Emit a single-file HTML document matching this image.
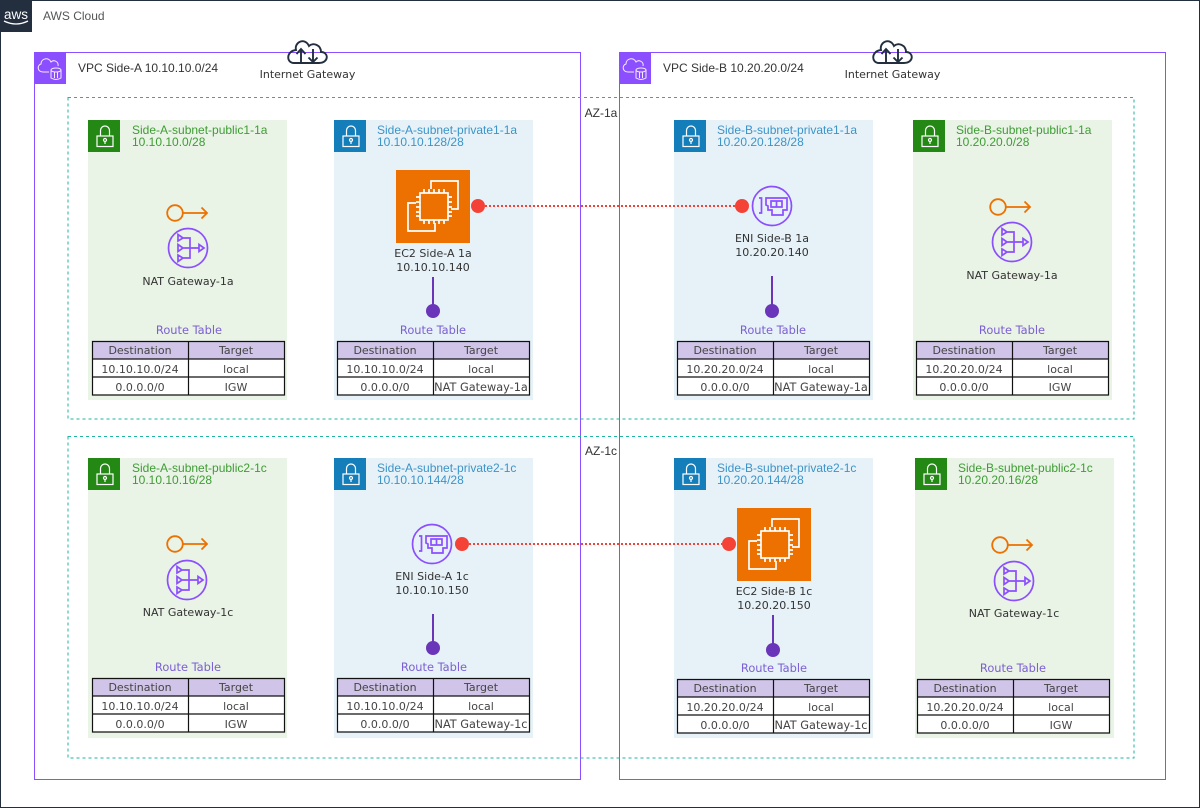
<!DOCTYPE html>
<html><head><meta charset="utf-8"><style>
html,body{margin:0;padding:0;background:#fff}
svg{display:block}
text{font-family:"DejaVu Sans",sans-serif;font-size:11px;fill:#333;text-anchor:middle}
.a{font-family:"Liberation Sans",sans-serif;font-size:12px}
.l{text-anchor:start}
.g{fill:#3f9c35}.b{fill:#3d93c8}
.p{fill:#7c5fd3;font-size:11.400px}
.h{fill:#444}
.n{font-size:11.300px}
</style></head><body>
<svg width="1200" height="808" viewBox="0 0 1200 808" xmlns="http://www.w3.org/2000/svg">
<defs>
<g id="lock" fill="none" stroke="#fff" stroke-width="1.200"><rect x="9" y="16" width="16" height="10.500"/><path d="M12.500 16V10.500a4.500 4.500 0 0 1 9 0V16"/><circle cx="17" cy="20" r="1.500"/><path d="M17 21.500v2.500"/></g>
<g id="igw" fill="none" stroke="#232f3e" stroke-width="1.900"><path d="M-13 12H12C22 12 22 1 14 1C14 -6 6 -9 2 -5C-2 -14 -13 -9 -11 -1C-21 0 -21 12 -13 12Z"/><path d="M-6 12V-2M-10.500 3L-6 -2L-1.500 3M6 -2V11M1.500 6.500L6 11L10.500 6.500"/></g>
<g id="eip" fill="none" stroke="#ed7100" stroke-width="1.800"><circle cx="0" cy="0" r="7.800"/><path d="M7.800 0H32M26.500 -5.500L32 0L26.500 5.500"/></g>
<g id="nat" fill="none" stroke="#8c4fff" stroke-width="1.700"><circle cx="0" cy="0" r="19.500"/><path d="M-10 -13.500L-5 -10L-10 -7ZM-10 -3.500L-5 0L-10 3.500ZM-10 7L-5 10L-10 13.500ZM-5 -10H2V10H-5M-5 0H11M11 -3.500L16 0L11 3.500Z"/></g>
<g id="eni" fill="none" stroke="#8c4fff" stroke-width="1.700"><circle cx="0" cy="0" r="19.500"/><path d="M-13 -8H-10.500V7H-13M-6 -8H15V4H11V9H0V4H-4L-4 0L-6 -1ZM-1 -5H10V1H-1ZM4.500 -5V1"/></g>
<g id="ec2"><rect width="74" height="73" fill="#ed7100"/><g fill="none" stroke="#fff" stroke-width="1.700"><path d="M35 19V11H62V39H55M20 33H12V61H39V53"/><rect x="24" y="23" width="28" height="27"/><path d="M28 23v-4M33 23v-4M38 23v-4M43 23v-4M48 23v-4M28 50v4M33 50v4M38 50v4M43 50v4M48 50v4M24 27h-4M24 32h-4M24 37h-4M24 42h-4M24 46h-4M52 27h4M52 32h4M52 37h4M52 42h4M52 46h4"/></g></g>
<g id="vpc"><rect width="32" height="32" fill="#8c4fff"/><g fill="none" stroke="#fff" stroke-width="1" opacity=".9"><path d="M15 20H9C3 20 3 13 7 12C7 6 15 5 17 10C20 7 25 10 24 14"/><ellipse cx="22" cy="18" rx="5" ry="2"/><path d="M17 18V26Q22 29 27 26V18M20.500 20V26M23.500 20V26"/></g></g>
<g id="pub"><rect width="199" height="280" fill="#e9f3e6"/><rect width="32" height="32" fill="#248814"/><use href="#lock"/></g>
<g id="pri"><rect width="199" height="280" fill="#e6f2f8"/><rect width="32" height="32" fill="#147eba"/><use href="#lock"/></g>
<g id="tbl"><rect x=".5" y=".5" width="192" height="53.500" fill="#fff"/><rect x=".5" y=".5" width="192" height="17.500" fill="#d0c4e8"/><path d="M.5 .5H192.500V54H.5ZM.5 18H192.500M.5 36H192.500M96.500 .5V54" fill="none" stroke="#111" stroke-width="1.200"/></g>
<g id="red"><circle r="7" fill="#f44336"/></g>
<g id="pd"><circle r="7" fill="#6a35b8"/></g>
</defs>

<rect x=".5" y=".5" width="1199" height="807" fill="#fff" stroke="#232f3e"/>
<rect width="32" height="32" fill="#232f3e"/>
<text x="16" y="19" style="font:13.500px 'Liberation Sans',sans-serif;fill:#fff;text-anchor:middle">aws</text>
<path d="M4 21Q16 27 28 21" fill="none" stroke="#fff" stroke-width="1.300"/>
<text class="a l" x="43" y="20" style="fill:#555">AWS Cloud</text>

<!-- Subnets -->
<use href="#pub" x="88" y="120"/><use href="#pri" x="334" y="120"/><use href="#pri" x="674" y="120"/><use href="#pub" x="913" y="120"/>
<use href="#pub" x="88" y="458"/><use href="#pri" x="334" y="458"/><use href="#pri" x="674" y="458"/><use href="#pub" x="915" y="458"/>

<!-- VPCs -->
<rect x="34.500" y="52.500" width="546" height="727" fill="none" stroke="#8c4fff"/>
<rect x="619.500" y="52.500" width="546" height="727" fill="none" stroke="#8c4fff"/>
<use href="#vpc" x="34" y="52"/><use href="#vpc" x="619" y="52"/>
<text class="a l" x="78" y="72">VPC Side-A 10.10.10.0/24</text>
<text class="a l" x="663" y="72">VPC Side-B 10.20.20.0/24</text>

<!-- AZ -->
<rect x="68" y="97.500" width="1066" height="321.500" fill="none" stroke="#1fb5a0" stroke-dasharray="3 3"/>
<rect x="68" y="436.500" width="1066" height="321.500" fill="none" stroke="#1fb5a0" stroke-dasharray="3 3"/>
<text class="a" x="601" y="117">AZ-1a</text>
<text class="a" x="601" y="455">AZ-1c</text>

<!-- IGW -->
<use href="#igw" x="307" y="51"/><use href="#igw" x="892" y="51"/>
<text x="307.500" y="78">Internet Gateway</text>
<text x="892.500" y="78">Internet Gateway</text>

<!-- Subnet titles -->
<text class="a l g" x="132" y="134">Side-A-subnet-public1-1a</text><text class="a l g" x="132" y="146">10.10.10.0/28</text>
<text class="a l b" x="377" y="134">Side-A-subnet-private1-1a</text><text class="a l b" x="377" y="146">10.10.10.128/28</text>
<text class="a l b" x="717" y="134">Side-B-subnet-private1-1a</text><text class="a l b" x="717" y="146">10.20.20.128/28</text>
<text class="a l g" x="956" y="134">Side-B-subnet-public1-1a</text><text class="a l g" x="956" y="146">10.20.20.0/28</text>
<text class="a l g" x="132" y="472">Side-A-subnet-public2-1c</text><text class="a l g" x="132" y="484">10.10.10.16/28</text>
<text class="a l b" x="377" y="472">Side-A-subnet-private2-1c</text><text class="a l b" x="377" y="484">10.10.10.144/28</text>
<text class="a l b" x="717" y="472">Side-B-subnet-private2-1c</text><text class="a l b" x="717" y="484">10.20.20.144/28</text>
<text class="a l g" x="958" y="472">Side-B-subnet-public2-1c</text><text class="a l g" x="958" y="484">10.20.20.16/28</text>

<!-- NAT -->
<use href="#eip" x="175" y="213"/><use href="#nat" x="188" y="248"/><text x="188" y="285">NAT Gateway-1a</text>
<use href="#eip" x="998" y="207"/><use href="#nat" x="1012" y="242"/><text x="1012" y="279">NAT Gateway-1a</text>
<use href="#eip" x="175" y="544"/><use href="#nat" x="187" y="580"/><text x="188" y="616">NAT Gateway-1c</text>
<use href="#eip" x="1000" y="545"/><use href="#nat" x="1014" y="581"/><text x="1014" y="617">NAT Gateway-1c</text>

<!-- EC2 / ENI -->
<use href="#ec2" x="396" y="170"/><text x="433" y="257">EC2 Side-A 1a</text><text x="433" y="271">10.10.10.140</text>
<use href="#eni" x="772" y="206"/><text x="772" y="242">ENI Side-B 1a</text><text x="772" y="256">10.20.20.140</text>
<use href="#eni" x="432" y="544"/><text x="432" y="580">ENI Side-A 1c</text><text x="432" y="594">10.10.10.150</text>
<use href="#ec2" x="737" y="508"/><text x="774" y="595">EC2 Side-B 1c</text><text x="774" y="609">10.20.20.150</text>

<!-- Connectors -->
<path d="M485 206H735M469 544H722" stroke="#f44336" stroke-width="2" stroke-dasharray="2 2" fill="none"/>
<use href="#red" x="478" y="206"/><use href="#red" x="742" y="206"/><use href="#red" x="462" y="544"/><use href="#red" x="729" y="544"/>
<path d="M433 277V311M772 276V311M433 614V648M773 615V650" stroke="#6a35b8" stroke-width="2" fill="none"/>
<use href="#pd" x="433" y="311"/><use href="#pd" x="772" y="311"/><use href="#pd" x="433" y="648"/><use href="#pd" x="773" y="650"/>

<!-- Route tables -->
<text class="p" x="189" y="334">Route Table</text>
<text class="p" x="433" y="334">Route Table</text>
<text class="p" x="773" y="334">Route Table</text>
<text class="p" x="1012" y="334">Route Table</text>
<text class="p" x="188" y="671">Route Table</text>
<text class="p" x="434" y="671">Route Table</text>
<text class="p" x="774" y="672">Route Table</text>
<text class="p" x="1013" y="672">Route Table</text>

<use href="#tbl" x="92" y="341"/>
<text class="h" x="140" y="354">Destination</text><text class="h" x="236" y="354">Target</text>
<text class="h" x="140" y="373">10.10.10.0/24</text><text class="h" x="236" y="373">local</text>
<text class="h" x="140" y="391">0.0.0.0/0</text><text class="h" x="236" y="391">IGW</text>

<use href="#tbl" x="337" y="341"/>
<text class="h" x="385" y="354">Destination</text><text class="h" x="481" y="354">Target</text>
<text class="h" x="385" y="373">10.10.10.0/24</text><text class="h" x="481" y="373">local</text>
<text class="h" x="385" y="391">0.0.0.0/0</text><text class="h n" x="481" y="391">NAT Gateway-1a</text>

<use href="#tbl" x="677" y="341"/>
<text class="h" x="725" y="354">Destination</text><text class="h" x="821" y="354">Target</text>
<text class="h" x="725" y="373">10.20.20.0/24</text><text class="h" x="821" y="373">local</text>
<text class="h" x="725" y="391">0.0.0.0/0</text><text class="h n" x="821" y="391">NAT Gateway-1a</text>

<use href="#tbl" x="916" y="341"/>
<text class="h" x="964" y="354">Destination</text><text class="h" x="1060" y="354">Target</text>
<text class="h" x="964" y="373">10.20.20.0/24</text><text class="h" x="1060" y="373">local</text>
<text class="h" x="964" y="391">0.0.0.0/0</text><text class="h" x="1060" y="391">IGW</text>

<use href="#tbl" x="92" y="678"/>
<text class="h" x="140" y="691">Destination</text><text class="h" x="236" y="691">Target</text>
<text class="h" x="140" y="710">10.10.10.0/24</text><text class="h" x="236" y="710">local</text>
<text class="h" x="140" y="728">0.0.0.0/0</text><text class="h" x="236" y="728">IGW</text>

<use href="#tbl" x="337" y="678"/>
<text class="h" x="385" y="691">Destination</text><text class="h" x="481" y="691">Target</text>
<text class="h" x="385" y="710">10.10.10.0/24</text><text class="h" x="481" y="710">local</text>
<text class="h" x="385" y="728">0.0.0.0/0</text><text class="h n" x="481" y="728">NAT Gateway-1c</text>

<use href="#tbl" x="677" y="679"/>
<text class="h" x="725" y="692">Destination</text><text class="h" x="821" y="692">Target</text>
<text class="h" x="725" y="711">10.20.20.0/24</text><text class="h" x="821" y="711">local</text>
<text class="h" x="725" y="729">0.0.0.0/0</text><text class="h n" x="821" y="729">NAT Gateway-1c</text>

<use href="#tbl" x="917" y="679"/>
<text class="h" x="965" y="692">Destination</text><text class="h" x="1061" y="692">Target</text>
<text class="h" x="965" y="711">10.20.20.0/24</text><text class="h" x="1061" y="711">local</text>
<text class="h" x="965" y="729">0.0.0.0/0</text><text class="h" x="1061" y="729">IGW</text>
</svg>
</body></html>
